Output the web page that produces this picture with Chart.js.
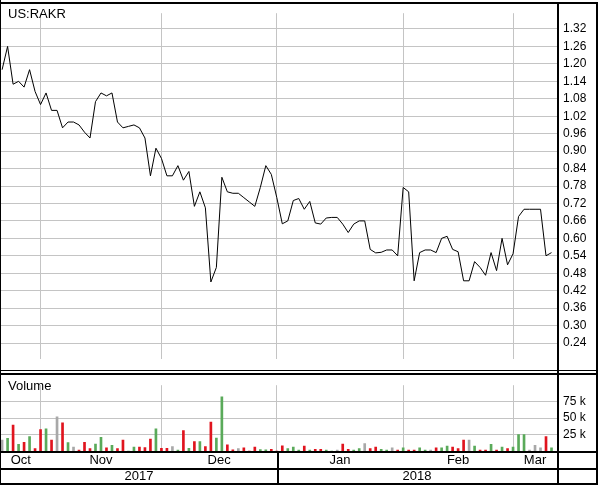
<!DOCTYPE html>
<html><head><meta charset="utf-8">
<script src="https://cdn.jsdelivr.net/npm/chart.js@4"></script>
<style>
html,body{margin:0;padding:0;background:#fff;}
#wrap{position:relative;width:602px;height:487px;overflow:hidden;background:#fff;}
canvas{position:absolute;left:0;display:block;}
#cp{top:0;}
#cv{top:372px;}
</style></head><body>
<div id="wrap"><canvas id="cp" width="602" height="372"></canvas><canvas id="cv" width="602" height="115"></canvas></div>
<script>
const symbol = 'US:RAKR';
const volumeTitle = 'Volume';
const dates = [
'2017-10-23','2017-10-24','2017-10-25','2017-10-26','2017-10-27','2017-10-30','2017-10-31',
'2017-11-01','2017-11-02','2017-11-03','2017-11-06','2017-11-07','2017-11-08','2017-11-09','2017-11-10','2017-11-13','2017-11-14','2017-11-15','2017-11-16','2017-11-17','2017-11-20','2017-11-21','2017-11-22','2017-11-23','2017-11-24','2017-11-27','2017-11-28','2017-11-29','2017-11-30',
'2017-12-01','2017-12-04','2017-12-05','2017-12-06','2017-12-07','2017-12-08','2017-12-11','2017-12-12','2017-12-13','2017-12-14','2017-12-15','2017-12-18','2017-12-19','2017-12-20','2017-12-21','2017-12-22','2017-12-25','2017-12-26','2017-12-27','2017-12-28','2017-12-29',
'2018-01-01','2018-01-02','2018-01-03','2018-01-04','2018-01-05','2018-01-08','2018-01-09','2018-01-10','2018-01-11','2018-01-12','2018-01-15','2018-01-16','2018-01-17','2018-01-18','2018-01-19','2018-01-22','2018-01-23','2018-01-24','2018-01-25','2018-01-26','2018-01-29','2018-01-30','2018-01-31',
'2018-02-01','2018-02-02','2018-02-05','2018-02-06','2018-02-07','2018-02-08','2018-02-09','2018-02-12','2018-02-13','2018-02-14','2018-02-15','2018-02-16','2018-02-19','2018-02-20','2018-02-21','2018-02-22','2018-02-23','2018-02-26','2018-02-27','2018-02-28',
'2018-03-01','2018-03-02','2018-03-05','2018-03-06','2018-03-07','2018-03-08','2018-03-09','2018-03-12'
];
const close = [
1.18,1.26,1.13,1.14,1.12,1.18,1.105,
1.06,1.10,1.04,1.04,0.98,1.00,1.00,0.99,0.965,0.945,1.07,1.10,1.09,1.10,1.00,0.98,0.985,0.99,0.98,0.945,0.815,0.91,
0.875,0.815,0.815,0.85,0.80,0.83,0.71,0.76,0.705,0.45,0.50,0.81,0.76,0.755,0.755,0.74,0.725,0.71,0.775,0.85,0.82,
0.74,0.65,0.66,0.73,0.737,0.70,0.727,0.653,0.649,0.67,0.672,0.672,0.649,0.62,0.649,0.66,0.66,0.562,0.55,0.552,0.56,0.56,0.54,
0.775,0.76,0.454,0.551,0.56,0.56,0.551,0.60,0.607,0.562,0.554,0.454,0.454,0.52,0.50,0.473,0.551,0.489,0.60,0.509,
0.547,0.675,0.70,0.70,0.70,0.70,0.54,0.551
];
const volume = [
16700,19300,39500,10000,13000,22000,3500,
32500,33800,16700,52000,43000,12700,6000,1300,13000,3500,10500,20600,4800,8800,3500,16700,0,6000,6000,5300,18000,33800,
4000,4000,6600,1300,31000,4000,14500,14500,6600,44000,19700,82500,9200,1800,3500,4800,0,6000,2000,1800,2600,
0,7900,3500,6100,1300,7500,1300,2600,2600,1300,0,1300,10500,2600,1300,3500,11400,3500,6100,2600,1300,4800,1300,
4800,1300,1300,4800,1300,1300,4800,4800,7500,6100,3500,16700,16700,7500,1300,1300,10000,1300,6100,3500,
6100,25000,25000,1300,8800,4800,22000,4800
];
const priceTicks = [0.24,0.30,0.36,0.42,0.48,0.54,0.60,0.66,0.72,0.78,0.84,0.90,0.96,1.02,1.08,1.14,1.20,1.26,1.32];
const volumeTicks = [25000,50000,75000];
const monthNames = ['Jan','Feb','Mar','Apr','May','Jun','Jul','Aug','Sep','Oct','Nov','Dec'];

const X_MIN = -0.2, X_MAX = 101;
const FONT = "'Liberation Sans', Arial, Helvetica, sans-serif";
Chart.defaults.font.family = FONT;
Chart.defaults.color = '#000';
const GRID = '#c4c4c4';
const UP = '#5aaa5a', DOWN = '#e0141e', FLAT = '#a8a8a8';

function segments(keyFn){
  const segs = [];
  dates.forEach((d,i)=>{
    const k = keyFn(d);
    if (!segs.length || segs[segs.length-1].key !== k) segs.push({key:k, start:i});
  });
  segs.forEach((s,j)=>{
    s.from = j===0 ? X_MIN : s.start;
    s.to = j===segs.length-1 ? X_MAX : segs[j+1].start;
    s.mid = (s.from + s.to)/2;
  });
  return segs;
}
const months = segments(d=>d.slice(0,7));
const years = segments(d=>d.slice(0,4));
const monthStarts = months.slice(1).map(s=>s.start);
const yearStarts = years.slice(1).map(s=>s.start);

const barColors = close.map((v,i)=> i===0 ? FLAT : (v>close[i-1] ? UP : (v<close[i-1] ? DOWN : FLAT)));

function gridAxis(){
  return {
    type:'linear', min:X_MIN, max:X_MAX, position:'bottom', weight:0, offset:false,
    afterBuildTicks: s=>{ s.ticks = monthStarts.map(v=>({value:v})); },
    ticks:{display:false},
    grid:{color:GRID, drawTicks:false, lineWidth:1, offset:false},
    border:{display:false},
    afterFit: s=>{ s.height = 0; }
  };
}
function labelAxis(weight, segs, labelFn, height, pad){
  return {
    type:'linear', min:X_MIN, max:X_MAX, position:'bottom', weight:weight, offset:false,
    afterBuildTicks: s=>{ s.ticks = segs.map(m=>({value:m.mid})); },
    ticks:{callback:(v,i)=>labelFn(segs[i]), font:{size:13}, padding:pad, maxRotation:0, minRotation:0, autoSkip:false, color:'#000'},
    grid:{display:false, drawTicks:false, offset:false},
    border:{display:false},
    afterFit: s=>{ s.height = height; }
  };
}

const framePrice = {
  id:'framePrice',
  afterDraw(chart){
    const c = chart.ctx;
    c.save();
    c.fillStyle = '#000';
    c.fillRect(0,0,1,372);
    c.fillRect(0,2,598,2);
    c.fillRect(557,2,2,370);
    c.fillRect(596,2,2,370);
    c.fillRect(0,370,598,1);
    c.font = '13px ' + FONT;
    c.textBaseline = 'alphabetic';
    c.textAlign = 'left';
    c.fillText(symbol, 8, 18);
    c.restore();
  }
};

new Chart(document.getElementById('cp'), {
  type:'line',
  data:{ datasets:[{
    data: close.map((v,i)=>({x:i,y:v})),
    borderColor:'#000', borderWidth:1, pointRadius:0, tension:0, fill:false
  }]},
  options:{
    responsive:false, animation:false, events:[],
    layout:{padding:{left:1, top:4, right:4, bottom:2}},
    plugins:{legend:{display:false}, tooltip:{enabled:false}},
    scales:{
      x: gridAxis(),
      y:{
        type:'linear', position:'right', min:0.1858, max:1.3742,
        afterBuildTicks: s=>{ s.ticks = priceTicks.map(v=>({value:v})); },
        ticks:{callback:v=>Number(v).toFixed(2), font:{size:12}, padding:6, color:'#000'},
        grid:{color:GRID, drawTicks:false},
        border:{display:false},
        afterFit: s=>{ s.width = 41; }
      }
    }
  },
  plugins:[framePrice]
});

const frameVol = {
  id:'frameVol',
  afterDraw(chart){
    const c = chart.ctx;
    c.save();
    c.fillStyle = '#000';
    c.fillRect(0,0,1,113);
    c.fillRect(0,1,598,2);
    c.fillRect(557,0,2,113);
    c.fillRect(596,0,2,113);
    c.fillRect(0,79,598,2);
    c.fillRect(0,96,598,2);
    c.fillRect(0,111,598,2);
    const xs = chart.scales.x;
    yearStarts.forEach(v=>{
      const px = Math.round(xs.getPixelForValue(v));
      c.fillRect(px,79,2,34);
    });
    c.font = '13px ' + FONT;
    c.textBaseline = 'alphabetic';
    c.textAlign = 'left';
    c.fillText(volumeTitle, 8, 18);
    c.restore();
  }
};

new Chart(document.getElementById('cv'), {
  type:'bar',
  data:{ datasets:[{
    data: volume.map((v,i)=>({x:i,y:v})),
    backgroundColor: barColors, borderWidth:0, barThickness:2, grouped:false
  }]},
  options:{
    responsive:false, animation:false, events:[],
    layout:{padding:{left:1, top:3, right:4, bottom:4}},
    plugins:{legend:{display:false}, tooltip:{enabled:false}},
    scales:{
      x: gridAxis(),
      xm: labelAxis(1, months, m=>monthNames[parseInt(m.key.slice(5),10)-1], 17, 2),
      xy: labelAxis(2, years, m=>m.key, 15, 1),
      y:{
        type:'linear', position:'right', min:0, max:100000,
        afterBuildTicks: s=>{ s.ticks = volumeTicks.map(v=>({value:v})); },
        ticks:{callback:v=>(v/1000)+' k', font:{size:12}, padding:6, color:'#000'},
        grid:{color:GRID, drawTicks:false},
        border:{display:false},
        afterFit: s=>{ s.width = 41; }
      }
    }
  },
  plugins:[frameVol]
});
</script>
</body></html>
